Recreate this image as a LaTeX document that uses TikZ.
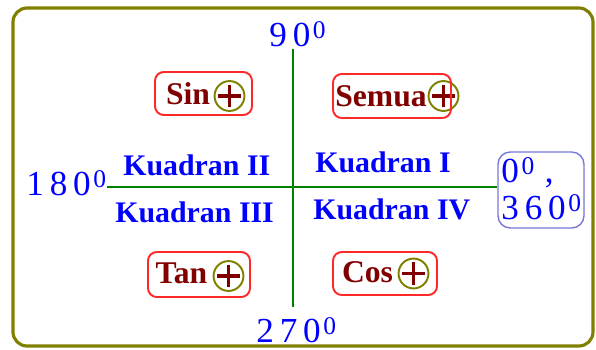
\documentclass[tikz,border=0pt]{standalone}
\usepackage{fontspec}
\setmainfont{Liberation Serif}
\usetikzlibrary{positioning,fit}

\definecolor{frameolive}{RGB}{128,128,0}
\definecolor{axisgreen}{RGB}{0,128,0}
\definecolor{trigred}{RGB}{128,0,0}
\definecolor{boxred}{RGB}{255,40,40}
\definecolor{anglebox}{RGB}{120,120,215}

% small raised zero for degrees
\newcommand{\degzero}{\hspace{1.5pt}\raisebox{4pt}{\fontsize{14.5}{14.5}\selectfont 0}}

\begin{document}
\begin{tikzpicture}[
    x=0.02cm, y=-0.02cm,
    angle/.style={text=blue, font=\fontsize{20}{21}\selectfont, inner sep=0pt, anchor=base west},
    quad/.style={text=blue, font=\bfseries\fontsize{17}{19}\selectfont, inner sep=0pt, anchor=base west},
    trig/.style={text=trigred, font=\bfseries\fontsize{18}{20}\selectfont, inner sep=1pt},
    plusring/.style={circle, draw=frameolive, line width=1.1pt, minimum size=17pt, inner sep=0pt,
        path picture={\draw[trigred, line width=2pt]
            ([xshift=-6.5pt]path picture bounding box.center) -- ([xshift=6.5pt]path picture bounding box.center)
            ([yshift=-6.5pt]path picture bounding box.center) -- ([yshift=6.5pt]path picture bounding box.center);}},
    trigbox/.style={draw=boxred, line width=1.1pt, rounded corners=5pt, inner sep=0pt},
    axis/.style={axisgreen, line width=1.7pt}
]
\useasboundingbox (0,0) rectangle (596,349);

% Frame
\draw[frameolive, line width=1.8pt, rounded corners=8pt] (13,8) rectangle (593,346);

% Axes
\coordinate (top) at (293,49);
\coordinate (bottom) at (293,307);
\coordinate (left) at (107,187);
\coordinate (right) at (497,187);
\draw[axis] (top) -- (bottom);
\draw[axis] (left) -- (right);

% Angles
\node[angle] (a90) at (269,46) {9\,0\degzero};
\node[angle] (a180) at (26,195) {1\,8\,0\degzero};
\node[angle] (a270) at (256,342) {2\,7\,0\degzero};
\node[angle] (a0) at (501,182) {0\degzero\hspace{6pt},};
\node[angle] (a360) at (501,219) {3\,6\,0\degzero};
\node[draw=anglebox, line width=0.8pt, rounded corners=7pt, inner sep=0pt,
    fit={(498,152) (584,228)}] (a360box) {};

% Quadrants
\node[quad] (q1) at (315,172) {Kuadran I};
\node[quad] (q2) at (123,175) {Kuadran II};
\node[quad] (q3) at (115,222) {Kuadran III};
\node[quad] (q4) at (313,219) {Kuadran IV};

% Positive functions
\node[trig] (sin) at (188,94) {Sin};
\node[plusring] (sinplus) at (229.5,96) {};
\node[trigbox, fit={(155,72) (252,115)}] (sinbox) {};

\node[trig] (semua) at (381,96) {Semua};
\node[plusring] (semuaplus) at (443.5,96) {};
\node[trigbox, fit={(333,74) (451,118)}] (semuabox) {};

\node[trig] (tan) at (181.5,273) {Tan};
\node[plusring] (tanplus) at (228.5,276) {};
\node[trigbox, fit={(148,252) (250,297)}] (tanbox) {};

\node[trig] (cos) at (367.5,272) {Cos};
\node[plusring] (cosplus) at (413.5,273.5) {};
\node[trigbox, fit={(333,252) (437,295)}] (cosbox) {};

\end{tikzpicture}
\end{document}
